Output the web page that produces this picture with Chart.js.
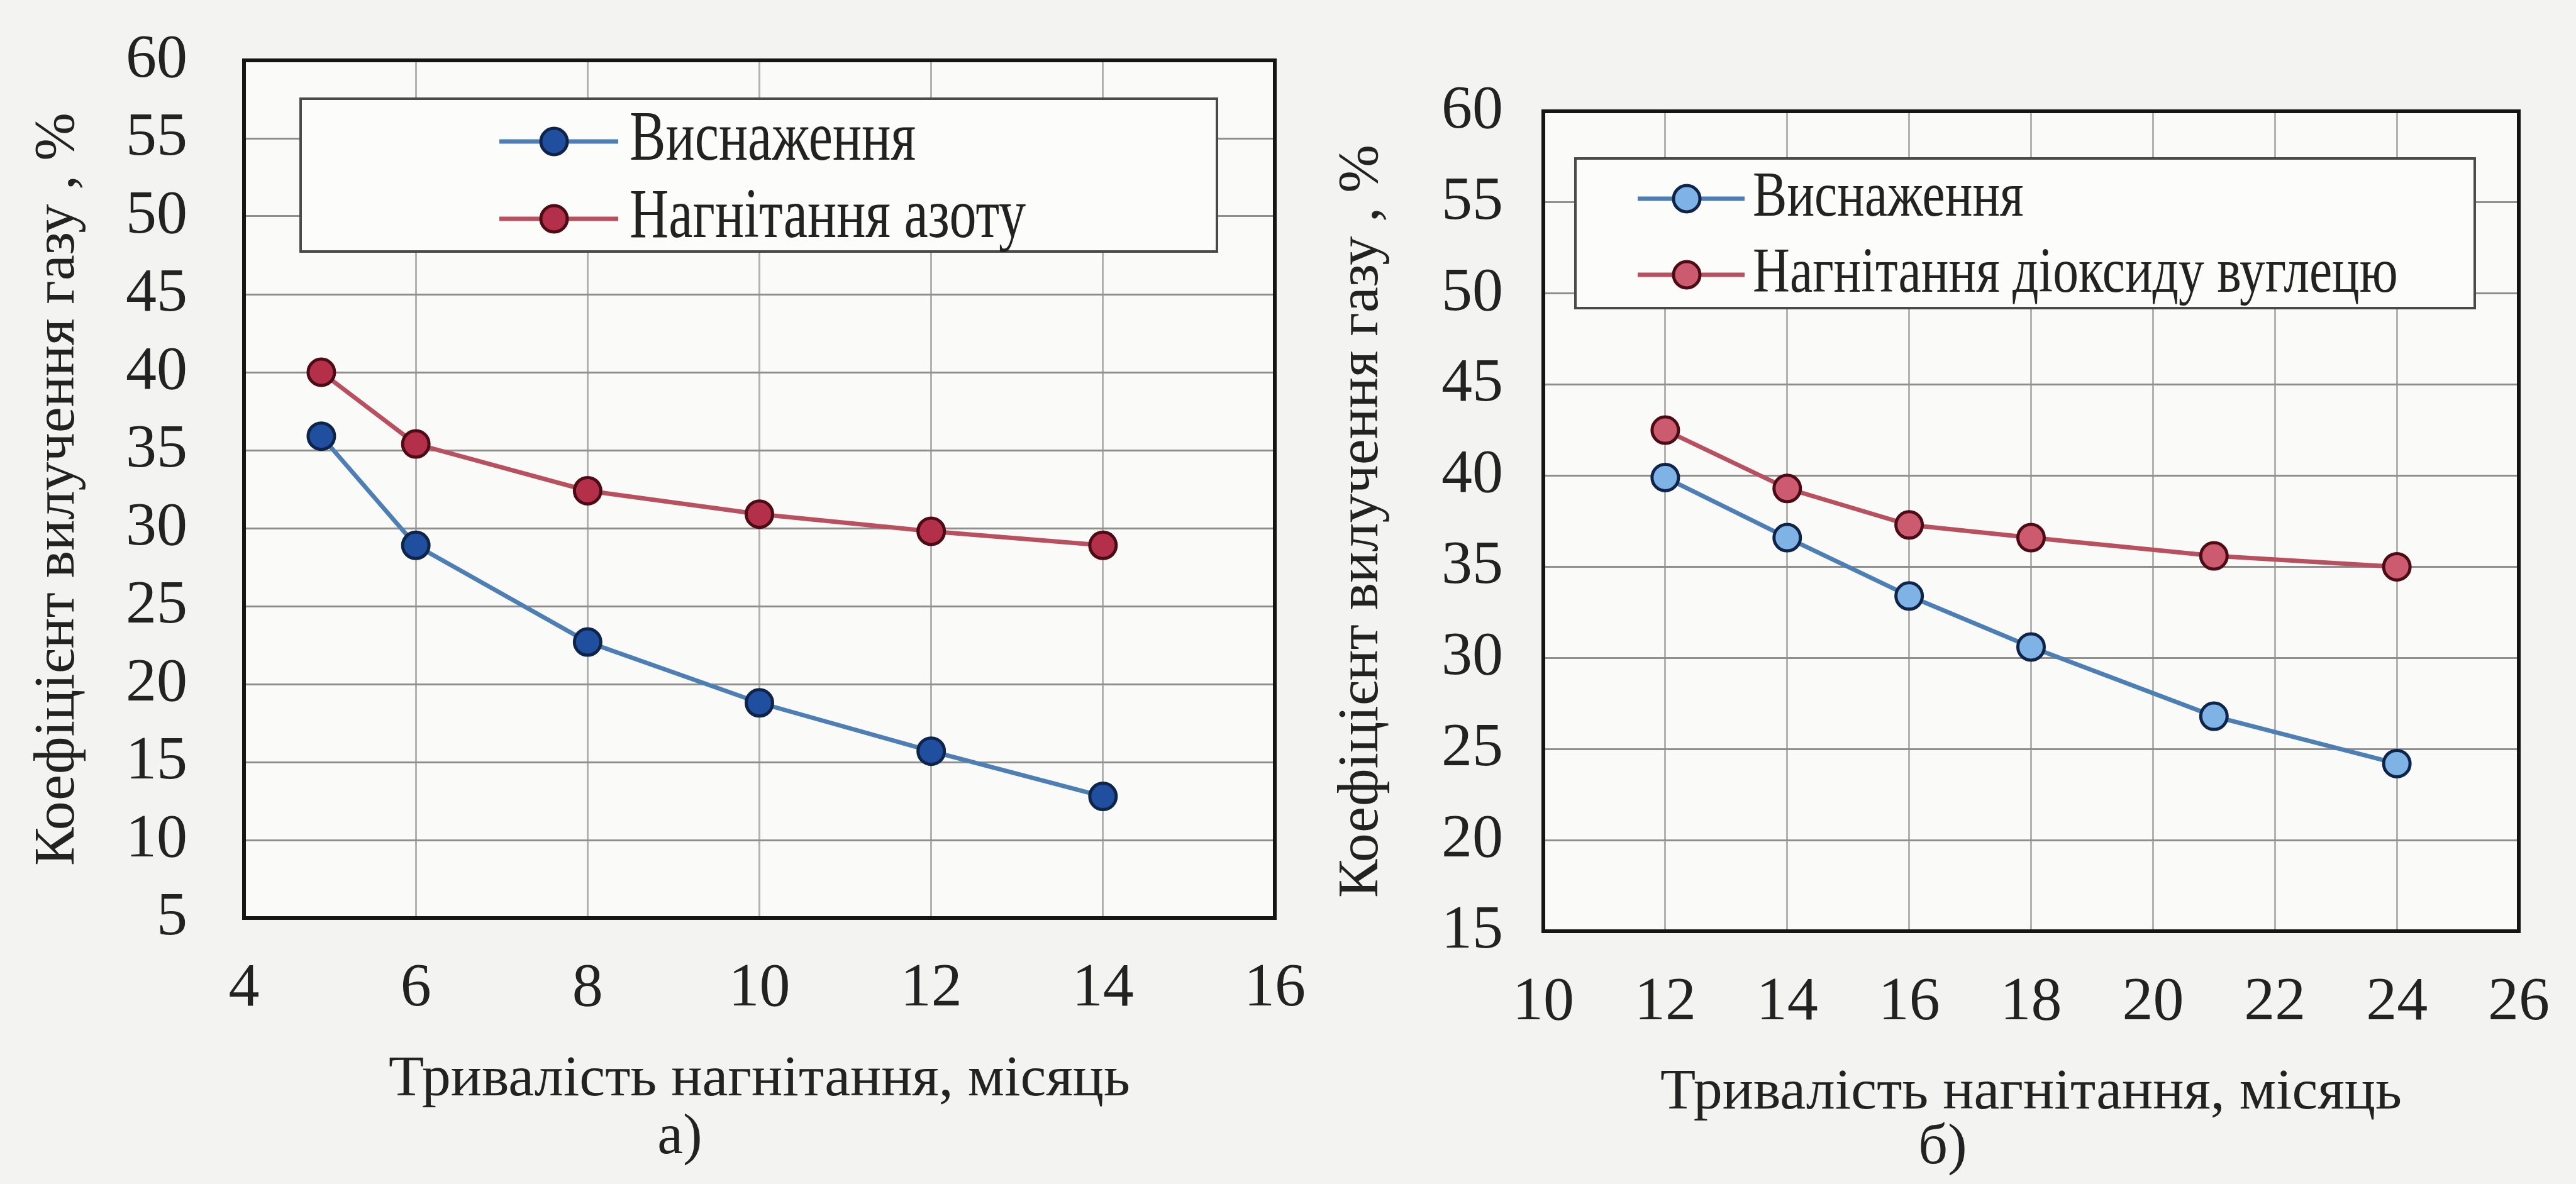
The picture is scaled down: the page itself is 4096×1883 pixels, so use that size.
<!DOCTYPE html>
<html lang="uk">
<head>
<meta charset="utf-8">
<title>Коефіцієнт вилучення газу</title>
<script src="https://cdn.jsdelivr.net/npm/chart.js@4.4.1/dist/chart.umd.min.js"></script>
<style>
  html, body { margin: 0; padding: 0; background: #f3f3f1; }
  body { width: 4096px; height: 1883px; position: relative; overflow: hidden; }
  .panel { position: absolute; top: 0; height: 1883px; }
  #panelA { left: 0; width: 2090px; }
  #panelB { left: 2090px; width: 2006px; }
</style>
</head>
<body>
<div class="panel" id="panelA"><canvas id="chartA"></canvas></div>
<div class="panel" id="panelB"><canvas id="chartB"></canvas></div>
<script>
// Chart a) : depletion vs nitrogen injection
const monthsA    = [4.9, 6, 8, 10, 12, 14];
const depletionA = [35.9, 28.9, 22.7, 18.8, 15.7, 12.8];
const nitrogenA  = [40.0, 35.4, 32.4, 30.9, 29.8, 28.9];
const xTicksA    = [4, 6, 8, 10, 12, 14, 16];
const yTicksA    = [5, 10, 15, 20, 25, 30, 35, 40, 45, 50, 55, 60];

// Chart б) : depletion vs CO2 injection
const monthsB    = [12, 14, 16, 18, 21, 24];
const depletionB = [39.9, 36.6, 33.4, 30.6, 26.8, 24.2];
const co2B       = [42.5, 39.3, 37.3, 36.6, 35.6, 35.0];
const xTicksB    = [10, 12, 14, 16, 18, 20, 22, 24, 26];
const yTicksB    = [15, 20, 25, 30, 35, 40, 45, 50, 55, 60];

const labelDepletion = 'Виснаження';
const labelNitrogen  = 'Нагнітання азоту';
const labelCO2       = 'Нагнітання діоксиду вуглецю';
const titleY = 'Коефіцієнт вилучення газу , %';
const titleX = 'Тривалість нагнітання, місяць';

const serif     = '"Liberation Serif", "Times New Roman", "DejaVu Serif", serif';
const textColor = '#222222';
const blueLine  = '#4d7fb5';
const redLine   = '#b9505f';

const toXY = (xs, ys) => xs.map((x, i) => ({ x: x, y: ys[i] }));

// plot background, frame, boxed legend and caption
const panelDecor = {
    id: 'panelDecor',
    beforeDraw(chart) {
        const { ctx, chartArea: a } = chart;
        ctx.save();
        ctx.fillStyle = '#fafaf8';
        ctx.fillRect(a.left, a.top, a.right - a.left, a.bottom - a.top);
        ctx.restore();
    },
    afterDatasetsDraw(chart, args, opts) {
        const { ctx, chartArea: a } = chart;
        const L = opts.legend;
        ctx.save();

        ctx.strokeStyle = '#151515';
        ctx.lineWidth = 6;
        ctx.strokeRect(a.left, a.top, a.right - a.left, a.bottom - a.top);

        ctx.fillStyle = '#fcfcfb';
        ctx.fillRect(L.left, L.top, L.right - L.left, L.bottom - L.top);
        ctx.strokeStyle = '#4a4a4a';
        ctx.lineWidth = 4;
        ctx.strokeRect(L.left, L.top, L.right - L.left, L.bottom - L.top);

        chart.data.datasets.forEach((ds, i) => {
            const y = L.rows[i];
            ctx.strokeStyle = ds.borderColor;
            ctx.lineWidth = ds.borderWidth;
            ctx.beginPath();
            ctx.moveTo(L.lineFrom, y);
            ctx.lineTo(L.lineTo, y);
            ctx.stroke();

            ctx.beginPath();
            ctx.arc(L.marker, y, ds.pointRadius, 0, Math.PI * 2);
            ctx.fillStyle = ds.pointBackgroundColor;
            ctx.fill();
            ctx.lineWidth = ds.pointBorderWidth;
            ctx.strokeStyle = ds.pointBorderColor;
            ctx.stroke();

            ctx.save();
            ctx.translate(L.text, y);
            ctx.scale(L.squeeze, 1);
            ctx.font = `${L.size}px ${serif}`;
            ctx.fillStyle = textColor;
            ctx.textBaseline = 'middle';
            ctx.textAlign = 'left';
            ctx.fillText(ds.label, 0, 0);
            ctx.restore();
        });

        const c = opts.caption;
        ctx.font = `92px ${serif}`;
        ctx.fillStyle = textColor;
        ctx.textAlign = 'center';
        ctx.textBaseline = 'middle';
        ctx.fillText(c.text, c.x, c.y);
        ctx.restore();
    }
};

function makeChart(id, cfg) {
    return new Chart(document.getElementById(id), {
        type: 'scatter',
        data: {
            datasets: [
                {
                    label: labelDepletion,
                    data: toXY(cfg.months, cfg.depletion),
                    showLine: true,
                    borderColor: blueLine,
                    borderWidth: 7,
                    pointRadius: 21,
                    pointBorderWidth: 5,
                    pointBackgroundColor: cfg.blueFill,
                    pointBorderColor: '#0f2449'
                },
                {
                    label: cfg.injLabel,
                    data: toXY(cfg.months, cfg.injection),
                    showLine: true,
                    borderColor: redLine,
                    borderWidth: 7,
                    pointRadius: 21,
                    pointBorderWidth: 5,
                    pointBackgroundColor: cfg.redFill,
                    pointBorderColor: '#4d0b16'
                }
            ]
        },
        options: {
            responsive: true,
            maintainAspectRatio: false,
            animation: false,
            events: [],
            layout: {
                padding: { left: 0, top: cfg.top, right: cfg.right, bottom: 0 }
            },
            plugins: {
                legend: { display: false },
                tooltip: { enabled: false },
                panelDecor: { legend: cfg.legend, caption: cfg.caption }
            },
            scales: {
                x: {
                    type: 'linear',
                    position: 'bottom',
                    min: cfg.xTicks[0],
                    max: cfg.xTicks[cfg.xTicks.length - 1],
                    afterFit: (s) => {
                        s.height = cfg.xHeight;
                        s.paddingLeft = 0;
                        s.paddingRight = 0;
                    },
                    border: { display: false },
                    grid: { color: '#b2b2b2', lineWidth: 3, drawTicks: false },
                    ticks: {
                        stepSize: cfg.xTicks[1] - cfg.xTicks[0],
                        autoSkip: false,
                        maxRotation: 0,
                        padding: cfg.xTickPad,
                        color: textColor,
                        font: { family: serif, size: 98 }
                    },
                    title: {
                        display: true,
                        text: titleX,
                        color: textColor,
                        font: { family: serif, size: 92 },
                        padding: { top: 0, bottom: cfg.xTitlePad }
                    }
                },
                y: {
                    type: 'linear',
                    position: 'left',
                    min: cfg.yTicks[0],
                    max: cfg.yTicks[cfg.yTicks.length - 1],
                    afterFit: (s) => {
                        s.width = cfg.yWidth;
                        s.paddingTop = 0;
                        s.paddingBottom = 0;
                    },
                    border: { display: false },
                    grid: { color: '#8f8f8f', lineWidth: 3, drawTicks: false },
                    ticks: {
                        stepSize: cfg.yTicks[1] - cfg.yTicks[0],
                        autoSkip: false,
                        padding: cfg.yTickPad,
                        color: textColor,
                        font: { family: serif, size: 98 }
                    },
                    title: {
                        display: true,
                        text: titleY,
                        color: textColor,
                        font: { family: serif, size: 92 },
                        padding: { top: cfg.yTitlePad, bottom: 0 }
                    }
                }
            }
        },
        plugins: [panelDecor]
    });
}

makeChart('chartA', {
    months: monthsA, depletion: depletionA, injection: nitrogenA,
    injLabel: labelNitrogen, xTicks: xTicksA, yTicks: yTicksA,
    blueFill: '#1f4f9e', redFill: '#b4304a',
    top: 96, right: 63, yWidth: 388, xHeight: 423,
    yTickPad: 90, xTickPad: 54, yTitlePad: 38, xTitlePad: 110,
    legend: { left: 478, right: 1935, top: 157, bottom: 400, rows: [225, 348],
              lineFrom: 794, lineTo: 983, marker: 881, text: 1001, size: 112, squeeze: 0.77 },
    caption: { text: 'а)', x: 1081, y: 1810 }
});

makeChart('chartB', {
    months: monthsB, depletion: depletionB, injection: co2B,
    injLabel: labelCO2, xTicks: xTicksB, yTicks: yTicksB,
    blueFill: '#7fb3e6', redFill: '#cd5b70',
    top: 177, right: 91, yWidth: 364, xHeight: 402,
    yTickPad: 64, xTickPad: 55, yTitlePad: 21, xTitlePad: 89,
    legend: { left: 415, right: 1845, top: 252, bottom: 490, rows: [316, 437],
              lineFrom: 514, lineTo: 684, marker: 592, text: 697, size: 102, squeeze: 0.8 },
    caption: { text: 'б)', x: 999, y: 1826 }
});
</script>
</body>
</html>
